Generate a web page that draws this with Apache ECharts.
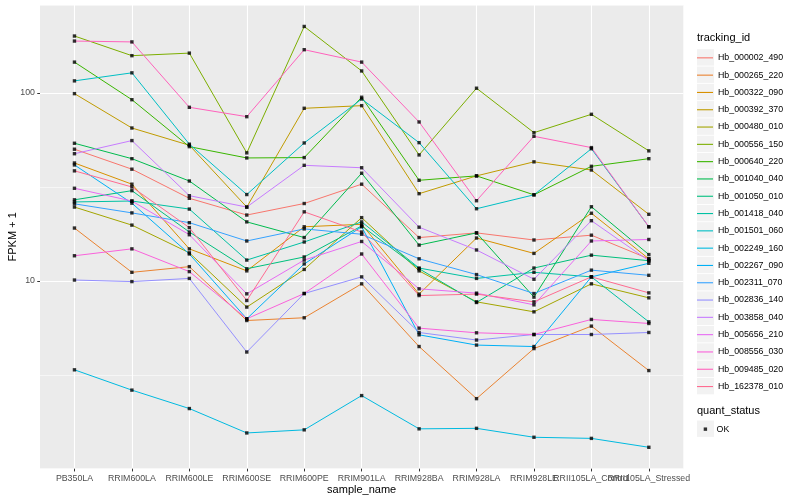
<!DOCTYPE html>
<html><head><meta charset="utf-8">
<script src="https://cdn.jsdelivr.net/npm/echarts@6/dist/echarts.min.js"></script>
<style>html,body{margin:0;padding:0;background:#fff}#c{width:800px;height:500px}</style>
</head><body><div id="c"></div>
<script>
const categories = ['PB350LA','RRIM600LA','RRIM600LE','RRIM600SE','RRIM600PE','RRIM901LA','RRIM928BA','RRIM928LA','RRIM928LE','RRII105LA_Control','RRII105LA_Stressed'];
const trackingIds = ['Hb_000002_490','Hb_000265_220','Hb_000322_090','Hb_000392_370','Hb_000480_010','Hb_000556_150','Hb_000640_220','Hb_001040_040','Hb_001050_010','Hb_001418_040','Hb_001501_060','Hb_002249_160','Hb_002267_090','Hb_002311_070','Hb_002836_140','Hb_003858_040','Hb_005656_210','Hb_008556_030','Hb_009485_020','Hb_162378_010'];
const colors = ['#F8766D','#EA8331','#D89000','#C09B00','#A3A500','#7CAE00','#39B600','#00BB4E','#00BF7D','#00C1A3','#00BFC4','#00BAE0','#00B0F6','#35A2FF','#9590FF','#C77CFF','#E76BF3','#FA62DB','#FF62BC','#FF6C91'];

const hb_000002_490 = [50.2, 39.3, 27.5, 22.4, 25.8, 32.7, 17.0, 18.0, 16.5, 17.5, 13.1];
const hb_000265_220 = [19.1, 11.1, 11.9, 6.15, 6.36, 9.64, 4.47, 2.36, 4.36, 5.74, 3.33];
const hb_000322_090 = [42.4, 32.7, 14.8, 11.3, 19.4, 20.0, 8.50, 16.9, 14.0, 22.9, 13.1];
const hb_000392_370 = [99.2, 65.1, 52.7, 24.7, 82.9, 85.6, 29.1, 36.2, 43.0, 38.9, 22.6];
const hb_000480_010 = [24.7, 19.8, 14.1, 7.25, 11.5, 21.7, 11.3, 7.73, 6.84, 9.64, 8.12];
const hb_000556_150 = [201, 158, 163, 48.0, 226, 131, 46.8, 106, 61.5, 77.0, 49.2];
const hb_000640_220 = [146, 92.1, 51.8, 45.1, 45.3, 94.9, 34.3, 36.2, 28.7, 40.7, 44.7];
const hb_001040_040 = [54.0, 44.7, 34.0, 20.6, 17.0, 37.4, 15.5, 18.0, 8.19, 24.8, 13.8];
const hb_001050_010 = [27.0, 30.2, 18.2, 11.6, 13.4, 19.6, 11.6, 7.67, 11.7, 13.7, 12.8];
const hb_001418_040 = [26.3, 26.6, 24.1, 12.9, 16.1, 20.6, 11.7, 10.3, 11.1, 10.5, 6.05];
const hb_001501_060 = [116, 128, 53.4, 28.8, 54.2, 92.9, 54.4, 24.2, 28.7, 50.5, 19.4];
const hb_002249_160 = [3.36, 2.62, 2.09, 1.55, 1.61, 2.45, 1.63, 1.64, 1.47, 1.45, 1.30];
const hb_002267_090 = [41.4, 25.9, 13.9, 6.28, 12.3, 19.4, 5.16, 4.55, 4.47, 10.5, 12.4];
const hb_002311_070 = [25.7, 23.0, 20.4, 16.3, 18.9, 17.7, 13.1, 10.8, 8.56, 11.4, 10.7];
const hb_002836_140 = [10.1, 9.91, 10.3, 4.18, 8.56, 10.5, 5.31, 4.84, 5.18, 5.18, 5.31];
const hb_003858_040 = [47.5, 55.8, 28.4, 24.7, 41.2, 40.0, 19.3, 14.6, 10.2, 20.9, 12.8];
const hb_005656_210 = [31.1, 26.6, 17.6, 8.53, 12.9, 16.2, 9.07, 8.60, 7.45, 16.3, 16.6];
const hb_008556_030 = [13.6, 14.8, 11.2, 6.28, 8.56, 13.9, 5.60, 5.29, 5.18, 6.23, 5.93];
const hb_009485_020 = [189, 187, 83.9, 74.8, 170, 146, 70.1, 26.7, 58.8, 51.2, 19.4];
const hb_162378_010 = [38.5, 31.6, 19.2, 7.86, 23.3, 18.2, 8.35, 8.50, 7.73, 10.5, 8.63];

const seriesValues = [hb_000002_490, hb_000265_220, hb_000322_090, hb_000392_370, hb_000480_010, hb_000556_150, hb_000640_220, hb_001040_040, hb_001050_010, hb_001418_040, hb_001501_060, hb_002249_160, hb_002267_090, hb_002311_070, hb_002836_140, hb_003858_040, hb_005656_210, hb_008556_030, hb_009485_020, hb_162378_010];

const yTickValues = [10, 100];
const quantStatus = ['OK'];

const FONT = '"Liberation Sans", Arial, Helvetica, sans-serif';
const YMIN = 1.0, YMAX = 294;
const LMAX = Math.log10(YMAX);
const catIdx = categories.map((c, i) => i);
const evenIdx = catIdx.filter(i => i % 2 === 0);
const oddIdx = catIdx.filter(i => i % 2 === 1);

const series = trackingIds.map((id, k) => ({
  name: id, type: 'line', xAxisIndex: 0, yAxisIndex: 0,
  data: seriesValues[k].map((v, i) => [i, v]),
  showSymbol: false, symbol: 'none',
  lineStyle: { color: colors[k], width: 1 },
  itemStyle: { color: colors[k] },
  emphasis: { disabled: true }, silent: true, z: 2
}));
const allPts = [];
seriesValues.forEach(arr => arr.forEach((v, i) => allPts.push([i, v])));
series.push({
  name: quantStatus[0], type: 'scatter', xAxisIndex: 0, yAxisIndex: 0,
  data: allPts, symbol: 'rect', symbolSize: 3.4,
  itemStyle: { color: '#000' }, emphasis: { disabled: true }, silent: true, z: 3
});

// legend key backgrounds (decorative)
const graphics = [];
for (let k = 0; k < trackingIds.length; k++) {
  graphics.push({ type: 'rect', left: 697, top: 49.2 + 17.3 * k, shape: { width: 17, height: 16.4 }, style: { fill: '#F2F2F2' }, z: 0, silent: true });
}
graphics.push({ type: 'rect', left: 697, top: 420.5, shape: { width: 17, height: 16.4 }, style: { fill: '#F2F2F2' }, z: 0, silent: true });

const labelStyle = { color: '#4D4D4D', fontSize: 8.8, margin: 5, fontFamily: FONT, hideOverlap: false, showMinLabel: true, showMaxLabel: true };
const catFormatter = v => categories[Math.round(v)] || '';

const chart = echarts.init(document.getElementById('c'), null, { renderer: 'canvas' });
chart.setOption({
  animation: false,
  backgroundColor: '#fff',
  textStyle: { fontFamily: FONT },
  title: [
    { text: 'tracking_id', left: 697, top: 32.5, padding: 0, textStyle: { fontSize: 11, fontWeight: 'normal', color: '#000', fontFamily: FONT } },
    { text: 'quant_status', left: 697, top: 405.5, padding: 0, textStyle: { fontSize: 11, fontWeight: 'normal', color: '#000', fontFamily: FONT } }
  ],
  graphic: graphics,
  legend: [
    { data: trackingIds, orient: 'vertical', left: 697, top: 49.2, padding: 0, itemGap: 0,
      itemWidth: 16, itemHeight: 1.1, icon: 'rect', selectedMode: false,
      textStyle: { fontSize: 8.8, color: '#000', lineHeight: 17.3, fontFamily: FONT } },
    { data: quantStatus, orient: 'vertical', left: 703.7, top: 420.5, padding: 0, itemGap: 0,
      itemWidth: 3.4, itemHeight: 3.4, icon: 'rect', selectedMode: false,
      textStyle: { fontSize: 8.8, color: '#000', lineHeight: 17.3, fontFamily: FONT, padding: [0, 0, 0, 4.5] } }
  ],
  grid: { left: 40, right: 116.7, top: 5, bottom: 31.3, show: true, backgroundColor: '#EBEBEB', borderWidth: 0, borderColor: 'transparent', containLabel: false, outerBoundsMode: 'none' },
  xAxis: [{
    type: 'value', min: -0.6, max: 10.6, interval: 1, position: 'bottom',
    axisLine: { show: false },
    axisTick: { show: true, length: 2.75, lineStyle: { color: '#333', width: 1 }, customValues: catIdx },
    axisLabel: Object.assign({ customValues: evenIdx, formatter: catFormatter }, labelStyle),
    splitLine: { show: true, lineStyle: { color: '#fff', width: 1.1 } },
    name: 'sample_name', nameLocation: 'middle', nameGap: 16, nameMoveOverlap: false,
    nameTextStyle: { fontSize: 11, color: '#000', fontFamily: FONT }
  }, {
    type: 'value', min: -0.6, max: 10.6, interval: 1, position: 'bottom', offset: 0,
    axisLine: { show: false }, axisTick: { show: false }, splitLine: { show: false },
    axisLabel: Object.assign({ customValues: oddIdx, formatter: catFormatter }, labelStyle)
  }],
  yAxis: [
    { type: 'log', logBase: 10, min: YMIN, max: YMAX, show: false },
    { type: 'value', min: 0, max: LMAX, interval: 0.5, position: 'left',
      axisLine: { show: false }, axisTick: { show: false }, axisLabel: { show: false },
      splitLine: { show: true, lineStyle: { color: '#fff', width: 0.55 } } },
    { type: 'value', min: 0, max: LMAX, interval: 1, position: 'left',
      axisLine: { show: false },
      axisTick: { show: true, length: 2.75, lineStyle: { color: '#333', width: 1 }, customValues: yTickValues.map(Math.log10) },
      axisLabel: { customValues: yTickValues.map(Math.log10), formatter: v => String(Math.round(Math.pow(10, v))), color: '#4D4D4D', fontSize: 8.8, margin: 5, fontFamily: FONT, showMinLabel: true, showMaxLabel: true },
      splitLine: { show: true, lineStyle: { color: '#fff', width: 1.1 } },
      name: 'FPKM + 1', nameLocation: 'middle', nameGap: 22, nameRotate: 90, nameMoveOverlap: false,
      nameTextStyle: { fontSize: 11, color: '#000', fontFamily: FONT } }
  ],
  series: series
});
</script></body></html>
